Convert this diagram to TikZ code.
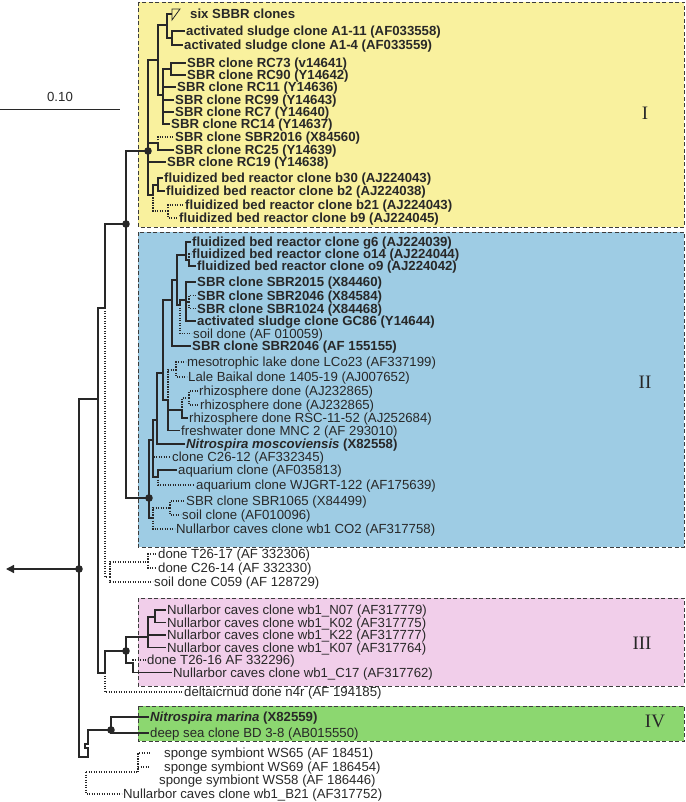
\documentclass[tikz,border=0pt]{standalone}
\usepackage{fontspec}
\setmainfont{Liberation Sans}
\newfontfamily\romfont{Liberation Serif}
\usetikzlibrary{arrows.meta}
\definecolor{linec}{RGB}{40,40,40}
\definecolor{boxc}{RGB}{60,60,60}
\definecolor{yelc}{RGB}{249,241,158}
\definecolor{bluc}{RGB}{158,204,228}
\definecolor{pinc}{RGB}{241,206,234}
\definecolor{grec}{RGB}{140,215,112}
\newcommand\leaffont{\fontsize{13.2}{13.5}\selectfont}
\tikzset{
  lf/.style={anchor=west, inner xsep=1.5pt, inner ysep=0pt, text height=9.4pt, text depth=0pt, font=\leaffont, text=linec},
  lfb/.style={lf, font=\leaffont\bfseries},
  brl/.style={line width=1.1pt, draw=linec},
  dotb/.style={brl, dash pattern=on 1.2pt off 1.3pt},
  boxst/.style={draw=boxc, line width=0.9pt, dash pattern=on 4pt off 2.5pt},
  roman/.style={font=\romfont\fontsize{19}{19}\selectfont, text=linec},
}
\newcommand\ndot[1]{\fill[linec] (#1) circle (3.8pt);}
\begin{document}
\begin{tikzpicture}[x=1pt,y=-1pt]
\useasboundingbox (0,0) rectangle (685,802);
% boxes
\path[boxst, fill=yelc] (138,2) rectangle (684,227);
\path[boxst, fill=bluc] (138,232) rectangle (684,547);
\path[boxst, fill=pinc] (138,598) rectangle (684,686);
\path[boxst, fill=grec] (138,706) rectangle (684,741);
\node[roman] (rI) at (645,113) {I};
\node[roman] (rII) at (645,382) {II};
\node[roman] (rIII) at (642,643) {III};
\node[roman] (rIV) at (655,721) {IV};
% scale bar
\coordinate (sb0) at (0,109);
\coordinate (sb1) at (120,109);
\draw[brl, line width=0.9pt] (sb0) -- (sb1);
\node[font=\leaffont, text=linec] (sbl) at (60,97) {0.10};

% ---------- yellow leaves
\node[lfb] (six) at (188.5,14) {six SBBR clones};
\node[lfb] (a111) at (184.5,31) {activated sludge clone A1-11 (AF033558)};
\node[lfb] (a14) at (182.5,45) {activated sludge clone A1-4 (AF033559)};
\node[lfb] (rc73) at (185.5,63) {SBR clone RC73 (v14641)};
\node[lfb] (rc90) at (185.5,75) {SBR clone RC90 (Y14642)};
\node[lfb] (rc11) at (175.5,87) {SBR clone RC11 (Y14636)};
\node[lfb] (rc99) at (173.5,100) {SBR clone RC99 (Y14643)};
\node[lfb] (rc7) at (173.5,112) {SBR clone RC7 (Y14640)};
\node[lfb] (rc14) at (169.5,124) {SBR clone RC14 (Y14637)};
\node[lfb] (s2016) at (173.5,137) {SBR clone SBR2016 (X84560)};
\node[lfb] (rc25) at (173.5,150) {SBR clone RC25 (Y14639)};
\node[lfb] (rc19) at (165.5,162) {SBR clone RC19 (Y14638)};
\node[lfb] (b30) at (162.5,178) {fluidized bed reactor clone b30 (AJ224043)};
\node[lfb] (b2) at (164.5,191) {fluidized bed reactor clone b2 (AJ224038)};
\node[lfb] (b21) at (183.5,205) {fluidized bed reactor clone b21 (AJ224043)};
\node[lfb] (b9) at (177.5,218) {fluidized bed reactor clone b9 (AJ224045)};
% yellow tree
\coordinate (yr) at (148,151);
\coordinate (yt) at (158,60);
\coordinate (y1) at (167,25);
\coordinate (ya) at (172,38);
\coordinate (ys) at (163,95);
\coordinate (yrc) at (171,69);
\coordinate (y25) at (158,143);
\coordinate (yf) at (153,195);
\coordinate (yf1) at (158,185);
\coordinate (yf2) at (168,211);
\coordinate (tri) at (172,14);
\draw[brl] (yr) |- (yt);
\draw[brl] (yr) |- (y25);
\draw[brl] (yr) |- (rc19);
\draw[brl] (yr) |- (yf);
\draw[brl] (yt) |- (y1);
\draw[brl] (yt) |- (ys);
\draw[brl] (y1) |- (tri);
\draw[brl, line width=0.8pt] (172,9) -- (180,9) -- (172,20) -- cycle;
\draw[brl] (y1) |- (ya);
\draw[brl] (ya) |- (a111);
\draw[brl] (ya) |- (a14);
\draw[brl] (ys) |- (yrc);
\draw[brl] (ys) |- (rc11);
\draw[brl] (ys) |- (rc99);
\draw[brl] (ys) |- (rc7);
\draw[brl] (ys) |- (rc14);
\draw[brl] (yrc) |- (rc73);
\draw[brl] (yrc) |- (rc90);
\draw[dotb] (y25) |- (s2016);
\draw[brl] (y25) |- (rc25);
\draw[brl] (yf) |- (yf1);
\draw[dotb] (yf) |- (yf2);
\draw[brl] (yf1) |- (b30);
\draw[brl] (yf1) |- (b2);
\draw[dotb] (yf2) |- (b21);
\draw[dotb] (yf2) |- (b9);
\ndot{yr}

% ---------- blue leaves
\node[lfb] (g6) at (190.5,242) {fluidized bed reactor clone g6 (AJ224039)};
\node[lfb] (o14) at (190.5,254) {fluidized bed reactor clone o14 (AJ224044)};
\node[lfb] (o9) at (195.5,266) {fluidized bed reactor clone o9 (AJ224042)};
\node[lfb] (s2015) at (195.5,282) {SBR clone SBR2015 (X84460)};
\node[lfb] (s2046) at (195.5,295.5) {SBR clone SBR2046 (X84584)};
\node[lfb] (s1024) at (195.5,308.5) {SBR clone SBR1024 (X84468)};
\node[lfb] (gc86) at (195.5,321) {activated sludge clone GC86 (Y14644)};
\node[lf] (soil1) at (191.5,333.5) {soil done (AF 010059)};
\node[lfb] (s2046b) at (190.5,346) {SBR clone SBR2046 (AF 155155)};
\node[lf] (meso) at (185.5,362) {mesotrophic lake done LCo23 (AF337199)};
\node[lf] (lale) at (186.5,377) {Lale Baikal done 1405-19 (AJ007652)};
\node[lf] (rh1) at (197.5,391) {rhizosphere done (AJ232865)};
\node[lf] (rh2) at (198.5,405) {rhizosphere done (AJ232865)};
\node[lf] (rsc) at (187.5,418) {rhizosphere done RSC-11-52 (AJ252684)};
\node[lf] (fw) at (179.5,430.5) {freshwater done MNC 2 (AF 293010)};
\node[lfb] (mosc) at (184.5,444) {\textit{Nitrospira moscoviensis} (X82558)};
\node[lf] (c2612) at (170.5,457) {clone C26-12 (AF332345)};
\node[lf] (aq1) at (176.5,470) {aquarium clone (AF035813)};
\node[lf] (aq2) at (194.5,485) {aquarium clone WJGRT-122 (AF175639)};
\node[lf] (s1065) at (184.5,501) {SBR clone SBR1065 (X84499)};
\node[lf] (soil2) at (180.5,515) {soil clone (AF010096)};
\node[lf] (co2) at (174.5,529) {Nullarbor caves clone wb1 CO2 (AF317758)};
% blue tree
\coordinate (bR) at (149,498);
\coordinate (b1) at (153,440);
\coordinate (b2n) at (157,420);
\coordinate (b3) at (163,373);
\coordinate (b4) at (172,300);
\coordinate (b5) at (168,400);
\coordinate (b6) at (177,280);
\coordinate (bg) at (186,255);
\coordinate (bg2) at (189,260);
\coordinate (bs) at (180,305);
\coordinate (bs2) at (186,300);
\coordinate (bs3) at (189,302);
\coordinate (bml) at (176,370);
\coordinate (brr) at (182,410);
\coordinate (brh) at (189,398);
\coordinate (baq) at (158,477);
\coordinate (bdg) at (153,518);
\coordinate (bsb) at (170,508);
\draw[brl] (bR) |- (b1);
\draw[brl] (bR) |- (bdg);
\draw[brl] (b1) |- (b2n);
\draw[dotb] (b1) |- (c2612);
\draw[brl] (b1) |- (baq);
\draw[brl] (b2n) |- (b3);
\draw[brl] (b2n) |- (mosc);
\draw[brl] (b3) |- (b4);
\draw[brl] (b3) |- (b5);
\draw[brl] (b4) |- (b6);
\draw[brl] (b4) |- (s2046b);
\draw[brl] (b6) |- (bg);
\draw[brl] (b6) |- (bs);
\draw[brl] (bg) |- (g6);
\draw[brl] (bg) |- (bg2);
\draw[dotb] (bg2) |- (o14);
\draw[brl] (bg2) |- (o9);
\draw[brl] (bs) |- (bs2);
\draw[dotb] (bs) |- (soil1);
\draw[brl] (bs2) |- (s2015);
\draw[brl] (bs2) |- (bs3);
\draw[brl] (bs2) |- (gc86);
\draw[dotb] (bs3) |- (s2046);
\draw[dotb] (bs3) |- (s1024);
\draw[dotb] (b5) |- (bml);
\draw[brl] (b5) |- (brr);
\draw[brl] (b5) |- (fw);
\draw[dotb] (bml) |- (meso);
\draw[dotb] (bml) |- (lale);
\draw[dotb] (brr) |- (brh);
\draw[brl] (brr) |- (rsc);
\draw[dotb] (brh) |- (rh1);
\draw[dotb] (brh) |- (rh2);
\draw[brl] (baq) |- (aq1);
\draw[dotb] (baq) |- (aq2);
\draw[dotb] (bdg) |- (bsb);
\draw[dotb] (bdg) |- (co2);
\draw[dotb] (bsb) |- (s1065);
\draw[dotb] (bsb) |- (soil2);
\ndot{bR}

% ---------- middle
\node[lf] (t2617) at (156.5,554) {done T26-17 (AF 332306)};
\node[lf] (c2614) at (156.5,568) {done C26-14 (AF 332330)};
\node[lf] (c059) at (152.5,582) {soil done C059 (AF 128729)};
\coordinate (root) at (79,569);
\coordinate (rootend) at (6,569);
\coordinate (m1) at (98,399);
\coordinate (m2) at (105,308);
\coordinate (m3) at (126,224);
\coordinate (m4) at (110,577);
\coordinate (t2) at (148,562);
\coordinate (m5) at (105,673);
\coordinate (m6) at (126,651);
\coordinate (n4) at (148,637);
\coordinate (n5) at (155,617);
\coordinate (m7) at (133,663);
\draw[brl, line width=1.4pt, -{Triangle[length=8pt,width=8pt]}] (root) -- (rootend);
\draw[brl] (root) |- (m1);
\draw[brl] (m1) |- (m2);
\draw[brl] (m1) |- (m5);
\draw[brl] (m2) |- (m3);
\draw[dotb] (m2) |- (m4);
\draw[brl] (m3) |- (yr);
\draw[brl] (m3) |- (bR);
\draw[dotb] (m4) |- (t2);
\draw[dotb] (m4) |- (c059);
\draw[dotb] (t2) |- (t2617);
\draw[dotb] (t2) |- (c2614);
\ndot{m3}
\ndot{root}

% ---------- pink
\node[lf] (n07) at (165.5,610) {Nullarbor caves clone wb1\_N07 (AF317779)};
\node[lf] (k02) at (165.5,622.5) {Nullarbor caves clone wb1\_K02 (AF317775)};
\node[lf] (k22) at (165.5,635) {Nullarbor caves clone wb1\_K22 (AF317777)};
\node[lf] (k07) at (165.5,647.5) {Nullarbor caves clone wb1\_K07 (AF317764)};
\node[lf] (t2616) at (145.5,660) {done T26-16 AF 332296)};
\node[lf] (c17) at (171.5,672.5) {Nullarbor caves clone wb1\_C17 (AF317762)};
\node[lf] (delta) at (182.5,692) {deltaicrnud done n4r (AF 194185)};
\draw[brl] (m5) |- (m6);
\draw[dotb] (m5) |- (delta);
\draw[brl] (m6) |- (n4);
\draw[brl] (m6) |- (m7);
\draw[brl] (n4) |- (n5);
\draw[brl] (n4) |- (k22);
\draw[brl] (n4) |- (k07);
\draw[brl] (n5) |- (n07);
\draw[brl] (n5) |- (k02);
\draw[dotb] (m7) |- (t2616);
\draw[brl] (m7) |- (c17);
\ndot{m6}

% ---------- green
\node[lfb] (marina) at (148.5,717) {\textit{Nitrospira marina} (X82559)};
\node[lf] (deep) at (148.5,733) {deep sea clone BD 3-8 (AB015550)};
\coordinate (mr) at (111,730);
\coordinate (rbot) at (79,757);
\draw[brl] (root) -- (rbot) -- (88,757) -- (88,748) -- (85,748) -- (85,744) -- (88,744) |- (mr);
\draw[brl] (mr) |- (marina);
\draw[brl] (mr) |- (deep);
\ndot{mr}

% ---------- sponges
\node[lf] (ws65) at (162.5,753) {sponge symbiont WS65 (AF 18451)};
\node[lf] (ws69) at (162.5,767) {sponge symbiont WS69 (AF 186454)};
\node[lf] (ws58) at (157.5,780) {sponge symbiont WS58 (AF 186446)};
\node[lf] (b21n) at (121.5,794) {Nullarbor caves clone wb1\_B21 (AF317752)};
\coordinate (sp0) at (86,772);
\coordinate (sp1) at (138,772);
\draw[dotb] (sp0) -- (sp1);
\draw[dotb] (sp0) |- (b21n);
\draw[dotb, shorten >=13pt] (sp1) |- (ws65);
\draw[dotb, shorten >=13pt] (sp1) |- (ws69);
\end{tikzpicture}
\end{document}
